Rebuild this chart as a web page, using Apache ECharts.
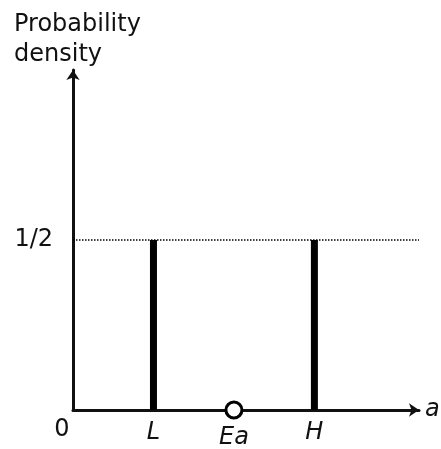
<!DOCTYPE html>
<html>
<head>
<meta charset="utf-8">
<script src="https://cdn.jsdelivr.net/npm/echarts@6/dist/echarts.min.js"></script>
<style>
  html, body { margin: 0; padding: 0; background: #fff; }
  #chart { width: 441px; height: 449px; }
</style>
</head>
<body>
<div id="chart"></div>
<script>
// Two-point distribution: mass 1/2 at L and at H, mean Ea in between
const pointNames = ['L', 'H'];
const pointPositions = [1, 3];
const pointDensity = [0.5, 0.5];
const meanName = 'Ea';
const meanPosition = 2;
const xTickValues = [0, 1, 2, 3];
const xTickLabels = ['0', 'L', 'Ea', 'H'];
const yTickValues = [0.5];
const yTickLabels = ['1/2'];

const FONT = 'DejaVu Sans';
const FS = 24;
const chart = echarts.init(document.getElementById('chart'), null, { renderer: 'canvas' });

const barData = pointPositions.map((x, i) => [x, pointDensity[i]]);
const lineW = 3;

chart.setOption({
  animation: false,
  backgroundColor: '#fff',
  title: {
    text: 'Probability\ndensity',
    left: 9, top: 5,
    textStyle: { fontFamily: FONT, fontSize: FS, fontWeight: 'normal', color: '#111', lineHeight: 30 }
  },
  grid: { left: 73, right: 22, top: 70, bottom: 39, outerBoundsMode: 'none' },
  xAxis: {
    type: 'value', min: 0, max: 4.3,
    name: 'a',
    nameLocation: 'end',
    nameGap: 6,
    nameTextStyle: { fontFamily: FONT, fontSize: FS, fontStyle: 'italic', color: '#111', verticalAlign: 'middle', padding: [0, 0, 4, 0] },
    axisLine: { show: true, symbol: ['none', 'arrow'], symbolSize: [10, 10], lineStyle: { color: '#111', width: lineW } },
    axisTick: { show: false },
    splitLine: { show: false },
    axisLabel: {
      customValues: xTickValues,
      margin: 8,
      fontFamily: FONT, fontSize: FS, color: '#111',
      formatter: (v) => {
        const i = xTickValues.indexOf(v);
        const t = i >= 0 ? xTickLabels[i] : '';
        if (i === 0) return '{z|' + t + '}';
        if (t === meanName) return '{m|' + t + '}';
        return '{n|' + t + '}';
      },
      rich: {
        z: { fontFamily: FONT, fontSize: FS, color: '#111', padding: [0, 22, 0, 0] },
        n: { fontFamily: FONT, fontSize: FS, color: '#111', fontStyle: 'italic', padding: [3, 0, 0, 0] },
        m: { fontFamily: FONT, fontSize: FS, color: '#111', fontStyle: 'italic', padding: [8, 0, 0, 0] }
      }
    }
  },
  yAxis: {
    type: 'value', min: 0, max: 1.0,
    axisLine: { show: true, symbol: ['none', 'arrow'], symbolSize: [10, 10], lineStyle: { color: '#111', width: lineW } },
    axisTick: { show: false },
    splitLine: { show: false },
    axisLabel: {
      customValues: yTickValues,
      margin: 20,
      fontFamily: FONT, fontSize: FS, color: '#111',
      formatter: (v) => {
        const i = yTickValues.indexOf(v);
        return i >= 0 ? yTickLabels[i] : '';
      }
    }
  },
  series: [
    {
      type: 'bar',
      name: 'density',
      data: barData,
      barWidth: 7,
      itemStyle: { color: '#000' },
      markLine: {
        silent: true,
        symbol: ['none', 'none'],
        label: { show: false },
        lineStyle: { color: '#000', type: [1.5, 1.5], width: 1.5 },
        data: [{ yAxis: pointDensity[0] }]
      },
      z: 3
    },
    {
      type: 'scatter',
      name: meanName,
      data: [[meanPosition, 0]],
      symbol: 'circle',
      symbolSize: 16,
      itemStyle: { color: '#fff', borderColor: '#000', borderWidth: 3, opacity: 1 },
      z: 5
    }
  ]
});
</script>
</body>
</html>
